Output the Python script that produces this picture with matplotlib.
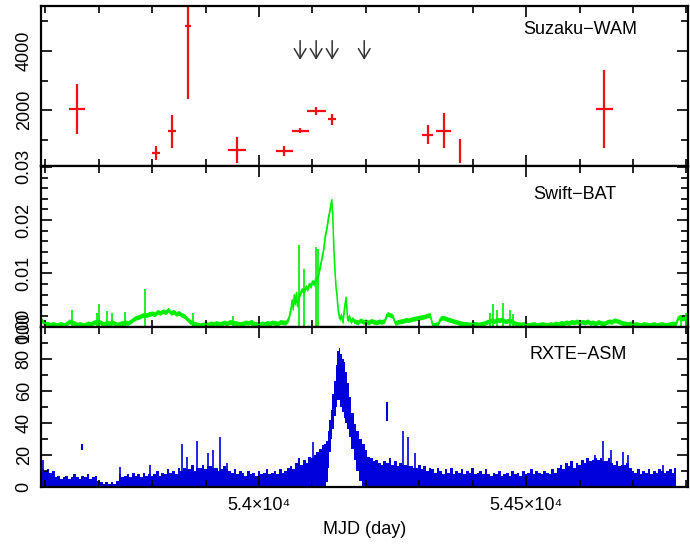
import numpy as np
import matplotlib
matplotlib.use('Agg')
import matplotlib.pyplot as plt
from matplotlib.ticker import MultipleLocator, FormatStrFormatter

plt.rcParams['font.family'] = ['Liberation Sans', 'DejaVu Sans']

RED = '#ee1111'
GREEN = '#00ee00'
BLUE = '#0000dd'

# ---- Suzaku-WAM points (MJD, half width in days, rate, error)
wam_mjd = [53659, 53807, 53837, 53867, 53959, 54047, 54077, 54107, 54137, 54316, 54346, 54376, 54646]
wam_dx = [15, 7, 7, 6, 17, 16, 16, 18, 8, 10, 14, 1, 16]
wam_rate = [2040, 550, 1280, 4830, 650, 620, 1310, 1970, 1690, 1170, 1310, 620, 2040]
wam_err = [860, 240, 550, 2450, 430, 170, 100, 140, 190, 330, 590, 415, 1310]
# upper limits (arrows)
wam_ul_mjd = [54077, 54107, 54137, 54197]
wam_ul_top = 4350
wam_ul_bot = 3700

# ---- Swift-BAT (units of 1e-3), 5-day grid before and after the outburst
bat_q1 = [1.5, 1.0, 0.6, 0.5, 0.4, 0.5, 0.3, 0.4, 0.5, 0.3,   # 53590
          0.6, 1.0, 0.8, 0.6, 0.4, 0.5, 0.3, 0.4, 0.6, 0.5,   # 53640
          0.8, 0.9, 1.0, 0.7, 0.5, 0.8, 0.6, 0.9, 0.6, 0.4,   # 53690
          0.6, 0.7, 0.8, 0.7, 1.0, 1.4, 1.7, 1.8, 2.1, 2.2,   # 53740
          2.2, 2.4, 2.5, 2.3, 2.8, 2.6, 2.9, 2.7, 3.2, 2.6,   # 53790
          2.8, 2.4, 2.6, 2.2, 2.0, 1.5, 1.0, 0.7, 0.5, 0.4,   # 53840
          0.3, 0.4, 0.5, 0.4, 0.6, 0.5, 0.7, 0.5, 0.6, 0.8,   # 53890
          0.6, 0.9, 0.8, 0.7, 0.6, 0.5, 0.6, 0.8, 0.7, 0.9,   # 53940
          0.6, 0.5, 0.4, 0.6, 0.5, 0.7, 0.6, 0.8, 0.7, 0.6,   # 53990
          0.9, 0.8]                                           # 54040
bat_flare_mjd = [54050, 54054, 54057, 54060, 54062, 54064, 54066, 54068, 54070, 54072,
                 54074, 54076, 54078, 54080, 54082, 54085, 54088, 54091, 54094, 54097,
                 54100, 54103, 54106, 54109, 54112, 54115, 54118, 54121, 54124, 54127,
                 54130, 54133, 54136, 54138, 54140, 54142, 54144, 54146, 54148, 54151,
                 54154, 54157, 54160, 54163, 54166, 54169, 54172, 54175, 54178]
bat_flare = [0.8, 1.2, 2.0, 3.5, 5.0, 3.2, 6.0, 4.2, 6.4, 3.8,
             5.0, 6.0, 6.4, 7.0, 6.6, 6.8, 7.5, 7.0, 8.0, 7.6,
             8.5, 8.0, 9.0, 8.8, 10.0, 11.5, 13.0, 14.5, 17.0, 18.5,
             20.5, 22.0, 23.8, 21.0, 15.0, 10.8, 7.5, 5.8, 3.2, 1.5,
             2.2, 0.8, 3.5, 5.5, 1.2, 2.0, 0.9, 1.5, 1.0]
bat_q2 = [1.0, 0.8, 1.2, 0.9, 1.0, 0.8, 1.1, 0.9, 0.8, 1.0,   # 54180
          0.9, 1.1, 2.4, 2.2, 2.0, 0.7, 0.9, 1.0, 1.1, 1.3,   # 54230
          1.2, 1.4, 1.5, 1.6, 1.7, 1.8, 1.9, 2.1, 2.2, 0.3,   # 54280
          0.4, 0.5, 1.6, 1.7, 1.5, 1.3, 1.2, 1.0, 0.9, 0.7,   # 54330
          0.6, 0.5, 0.5, 0.4, 0.6, 0.5, 0.4, 0.5, 0.6, 0.8,   # 54380
          1.0, 1.2, 1.0, 1.3, 1.2, 1.4, 1.0, 1.1, 1.2, 0.9,   # 54430
          0.6, 0.5, 0.4, 0.5, 0.4, 0.3, 0.4, 0.5, 0.3, 0.4,   # 54480
          0.5, 0.4, 0.3, 0.5, 0.4, 0.6, 0.5, 0.7, 0.6, 0.8,   # 54530
          0.7, 0.9, 0.8, 1.0, 0.7, 0.9, 0.8, 1.0, 0.7, 0.8,   # 54580
          0.6, 0.9, 0.7, 0.6, 0.8, 1.0, 0.9, 1.2, 1.1, 0.9,   # 54630
          0.7, 0.6, 0.5, 0.6, 0.4, 0.5, 0.4, 0.3, 0.5, 0.4,   # 54680
          0.3, 0.4, 0.5, 0.3, 0.4, 0.5, 0.3, 0.4, 0.5, 0.6,   # 54730
          0.5, 1.8, 1.6, 1.5, 1.9, 1.8]                       # 54780
bat_spike_mjd = [53650, 53697, 53700, 53716, 53725, 53750, 53786, 53876, 53951, 53987,
                 54075, 54084, 54107, 54111, 54433, 54438, 54446, 54457, 54470, 54476,
                 54790, 54800]
bat_spike = [3.2, 2.6, 4.3, 3.0, 2.5, 2.8, 7.0, 2.6, 2.0, 1.3,
             15.3, 10.8, 14.9, 14.6, 2.5, 4.3, 3.2, 4.5, 3.2, 2.3,
             2.2, 2.5]
BAT_ERR = 0.45  # typical error (1e-3)

# ---- RXTE-ASM: quiet envelope (5-day grid) and outburst band
asm_q1 = [12, 11, 10, 11, 9, 10, 6, 7, 5, 6,        # 53590
          7, 5, 6, 8, 6, 5, 7, 6, 8, 5,             # 53640
          6, 7, 4, 3, 2, 3, 2, 3, 2, 4,             # 53690
          8, 6, 7, 8, 6, 9, 7, 8, 6, 9,             # 53740
          7, 8, 7, 8, 10, 7, 9, 8, 11, 9,           # 53790
          10, 8, 12, 10, 12, 11, 11, 14, 10, 12,    # 53840
          12, 14, 11, 13, 13, 12, 12, 10, 11, 13,   # 53890
          11, 10, 9, 11, 8, 10, 9, 7, 10, 8,        # 53940
          9, 7, 10, 8, 9, 11, 8, 9, 10, 8,          # 53990
          11, 9]                                    # 54040
asm_flare_mjd = [54050, 54055, 54060, 54065, 54070, 54075, 54080, 54085, 54090, 54095,
                 54100, 54105, 54110, 54115, 54120, 54124, 54127, 54130, 54133, 54136,
                 54139, 54142, 54145, 54148, 54151, 54154, 54157, 54160, 54163, 54166,
                 54170, 54175, 54180, 54185, 54190, 54195, 54200, 54205, 54210, 54215,
                 54220, 54225]
asm_flare_hi = [10, 12, 13, 11, 15, 18, 14, 17, 15, 19,
                18, 20, 22, 24, 26, 27, 29, 35, 42, 48,
                58, 66, 76, 85, 87, 83, 80, 78, 72, 65,
                56, 46, 39, 35, 30, 27, 23, 19, 18, 16,
                17, 15]
asm_flare_lo = [0, 0, 0, 0, 0, 0, 0, 0, 0, 0,
                0, 0, 0, 0, 0, 0, 3, 12, 22, 30,
                36, 44, 50, 54, 54, 50, 47, 43, 40, 36,
                31, 24, 17, 10, 4, 0, 0, 0, 0, 0,
                0, 0]
asm_q2 = [14, 16, 15, 18, 14, 16, 13, 15, 14, 14,   # 54230
          13, 13, 12, 12, 14, 11, 13, 10, 12, 11,   # 54280
          9, 12, 10, 8, 11, 9, 12, 8, 10, 9,        # 54330
          11, 8, 10, 9, 12, 8, 9, 10, 8, 11,        # 54380
          8, 7, 9, 8, 10, 7, 8, 9, 7, 10,           # 54430
          8, 9, 7, 10, 8, 9, 11, 8, 10, 9,          # 54480
          8, 10, 9, 8, 11, 9, 12, 14, 11, 15,       # 54530
          13, 16, 12, 15, 14, 17, 15, 18, 16, 17,   # 54580
          18, 17, 18, 16, 16, 18, 15, 14, 16, 13,   # 54630
          14, 14, 15, 12, 10, 9, 11, 8, 10, 9,      # 54680
          11, 8, 10, 9, 11, 10, 9, 10, 11, 9,       # 54730
          12]                                       # 54780
asm_spike_mjd = [53595, 53740, 53796, 53856, 53865, 53884, 53904, 53914, 53927, 53940,
                 54101, 54270, 54279, 54292, 54629, 54644, 54659, 54682, 54691, 54757,
                 54779]
asm_spike = [17, 12.5, 14, 27, 19, 29, 21, 23, 31, 15,
             28, 35, 31, 21, 20, 29, 23, 22, 20, 14,
             12]
asm_pt_mjd = [53669, 54240]
asm_pt = [25, 47]
asm_pt_err = [2, 6]

xtick_vals = [54000, 54500]
xtick_labels = ['5.4×10⁴', '5.45×10⁴']

# ---- assemble the time series
bat_mjd = np.concatenate([np.arange(53590, 54046, 5), bat_flare_mjd, np.arange(54180, 54806, 5)])
bat = np.concatenate([bat_q1, bat_flare, bat_q2]) * 1e-3
asm_mjd = np.concatenate([np.arange(53590, 54046, 5), asm_flare_mjd, np.arange(54230, 54781, 5)])
asm_hi = np.concatenate([asm_q1, asm_flare_hi, asm_q2])
asm_lo = np.concatenate([np.zeros(len(asm_q1)), asm_flare_lo, np.zeros(len(asm_q2))])

fig = plt.figure(figsize=(6.9, 5.45), dpi=100)
gs = fig.add_gridspec(3, 1, left=41/690, right=688/690, top=1-6/545, bottom=1-487/545, hspace=0)
ax1 = fig.add_subplot(gs[0])
ax2 = fig.add_subplot(gs[1], sharex=ax1)
ax3 = fig.add_subplot(gs[2], sharex=ax1)

# top: Suzaku-WAM
ax1.errorbar(wam_mjd, wam_rate, xerr=wam_dx, yerr=wam_err, fmt='none',
             ecolor=RED, elinewidth=1.6, capsize=0)
for m in wam_ul_mjd:
    ax1.annotate('', xy=(m, wam_ul_bot), xytext=(m, wam_ul_top),
                 arrowprops=dict(arrowstyle='->,head_length=0.5,head_width=0.3',
                                 color='#333333', lw=1.1, mutation_scale=14,
                                 shrinkA=0, shrinkB=0))
ax1.set_ylim(100, 5520)
ax1.set_yticks([2000, 4000])
ax1.yaxis.set_minor_locator(MultipleLocator(1000))
ax1.text(0.833, 0.854, 'Suzaku−WAM', transform=ax1.transAxes, ha='center', va='center', fontsize=13)

# middle: Swift-BAT
ax2.fill_between(bat_mjd, bat - BAT_ERR*1e-3, bat + BAT_ERR*1e-3, color=GREEN, lw=0)
ax2.plot(bat_mjd, bat, color=GREEN, lw=1.1)
ax2.vlines(bat_spike_mjd, 0, np.array(bat_spike) * 1e-3, color=GREEN, lw=1.2)
ax2.set_ylim(0, 0.0301)
ax2.set_yticks([0, 0.01, 0.02, 0.03])
ax2.yaxis.set_major_formatter(FormatStrFormatter('%.2f'))
ax2.yaxis.set_minor_locator(MultipleLocator(0.002))
ax2.text(0.825, 0.826, 'Swift−BAT', transform=ax2.transAxes, ha='center', va='center', fontsize=13)

# bottom: RXTE-ASM
ax3.fill_between(asm_mjd, asm_lo, asm_hi, step='mid', color=BLUE, lw=0)
ax3.vlines(asm_spike_mjd, 0, asm_spike, color=BLUE, lw=1.2)
ax3.errorbar(asm_pt_mjd, asm_pt, yerr=asm_pt_err, fmt='none', ecolor=BLUE, elinewidth=1.5, capsize=0)
ax3.set_ylim(0, 100)
ax3.set_yticks([0, 20, 40, 60, 80, 100])
ax3.yaxis.set_minor_locator(MultipleLocator(10))
ax3.text(0.83, 0.827, 'RXTE−ASM', transform=ax3.transAxes, ha='center', va='center', fontsize=13)
ax3.set_xlabel('MJD (day)', fontsize=13, labelpad=5)

ax1.set_xlim(53592, 54803)
ax3.set_xticks(xtick_vals, labels=xtick_labels)
for ax in (ax1, ax2, ax3):
    ax.xaxis.set_minor_locator(MultipleLocator(100))
    ax.tick_params(which='both', direction='in', top=True, right=True, width=1.2, labelsize=13)
    ax.tick_params(which='major', length=8)
    ax.tick_params(which='minor', length=5)
    ax.tick_params(axis='y', labelrotation=90, pad=6)
    ax.tick_params(axis='x', pad=7)
    plt.setp(ax.get_yticklabels(), va='center')
    for s in ax.spines.values():
        s.set_linewidth(1.6)
for ax in (ax1, ax2):
    ax.tick_params(axis='x', labelbottom=False)

fig.savefig('out.png', dpi=100)
